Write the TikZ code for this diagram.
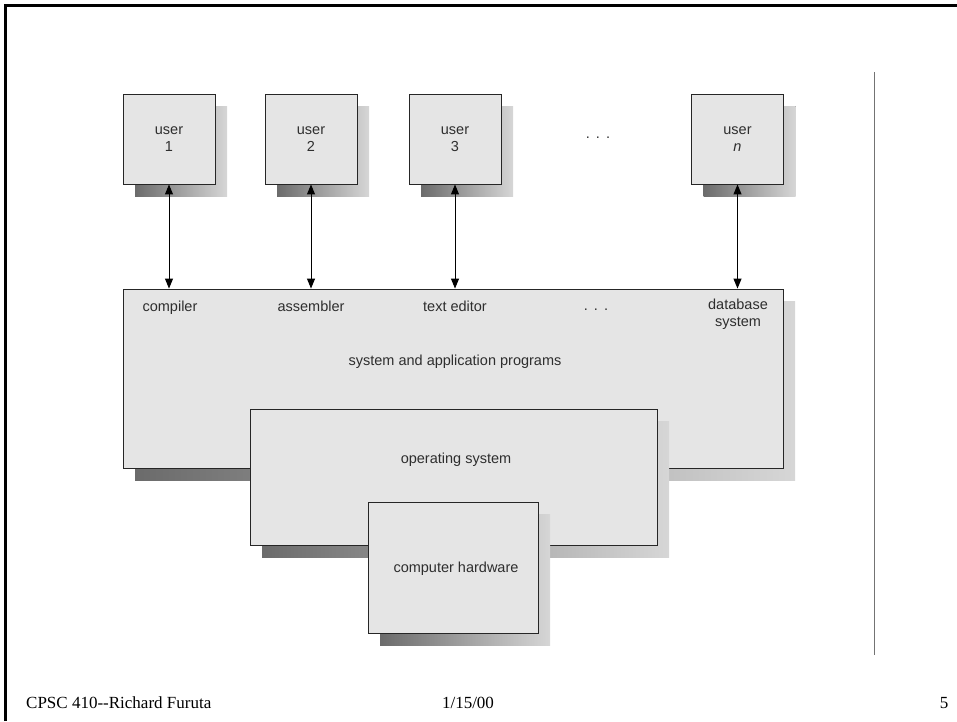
\documentclass[tikz,border=0pt]{standalone}
\usepackage{fontspec}
\setmainfont{Liberation Sans}
\newfontfamily\footfont{Liberation Serif}
\usetikzlibrary{arrows.meta,shadows}
\begin{document}
\begin{tikzpicture}[x=1pt,y=-1pt,
  shadowed/.style={draw=black!85, line width=0.9pt, fill=black!10,
    drop shadow={shadow xshift=12pt, shadow yshift=-12pt, opacity=1,
      shading=axis, left color=black!58, right color=black!16}},
  userbox/.style={shadowed, minimum width=92pt, minimum height=90pt, inner sep=0pt,
    align=center, font=\fontsize{14.5}{17}\selectfont, text=black!82},
  lbl/.style={font=\fontsize{14.5}{17}\selectfont, text=black!82, align=center, inner sep=0pt},
  link/.style={{Triangle[length=10pt,width=8pt]}-{Triangle[length=10pt,width=8pt]}, line width=1pt, black},
  foot/.style={font=\footfont\fontsize{17}{20}\selectfont, inner sep=0pt}]
\useasboundingbox (0,0) rectangle (957,721);
% frame
\draw[line width=3pt] (5,721) -- (5,5) -- (957,5);
\draw[black!55, line width=1pt] (874,72) -- (874,655);
% users
\node[userbox] (u1) at (169,139) {user\\1};
\node[userbox] (u2) at (311,139) {user\\2};
\node[userbox] (u3) at (455,139) {user\\3};
\node[userbox] (un) at (737.5,139) {user\\\textit{n}};
\node[lbl] (udots) at (598,138) {.\hspace{6pt}.\hspace{6pt}.};
% layered boxes
\node[shadowed, minimum width=660pt, minimum height=179pt, inner sep=0pt] (apps) at (453,378.5) {};
\node[shadowed, minimum width=407pt, minimum height=136pt, inner sep=0pt] (os) at (453.5,477) {};
\node[shadowed, minimum width=170pt, minimum height=131pt, inner sep=0pt] (hw) at (453,567.5) {};
% labels
\node[lbl, anchor=base] (l1) at (170,311) {compiler};
\node[lbl, anchor=base] (l2) at (311,311) {assembler};
\node[lbl, anchor=base] (l3) at (455,311) {text editor};
\node[lbl] (l4) at (596,310) {.\hspace{6pt}.\hspace{6pt}.};
\node[lbl] (l5) at (738,314) {database\\system};
\node[lbl] (lapps) at (455,362) {system and application programs};
\node[lbl] (los) at (456,460) {operating system};
\node[lbl] (lhw) at (456,569) {computer hardware};
% connectors
\draw[link] (u1.south) -- (u1.south |- apps.north);
\draw[link] (u2.south) -- (u2.south |- apps.north);
\draw[link] (u3.south) -- (u3.south |- apps.north);
\draw[link] (un.south) -- (un.south |- apps.north);
% footer
\node[foot, anchor=base west] (f1) at (26,708) {CPSC 410-{}-Richard Furuta};
\node[foot, anchor=base] (f2) at (468,708) {1/15/00};
\node[foot, anchor=base] (f3) at (944,708) {5};
\end{tikzpicture}
\end{document}
